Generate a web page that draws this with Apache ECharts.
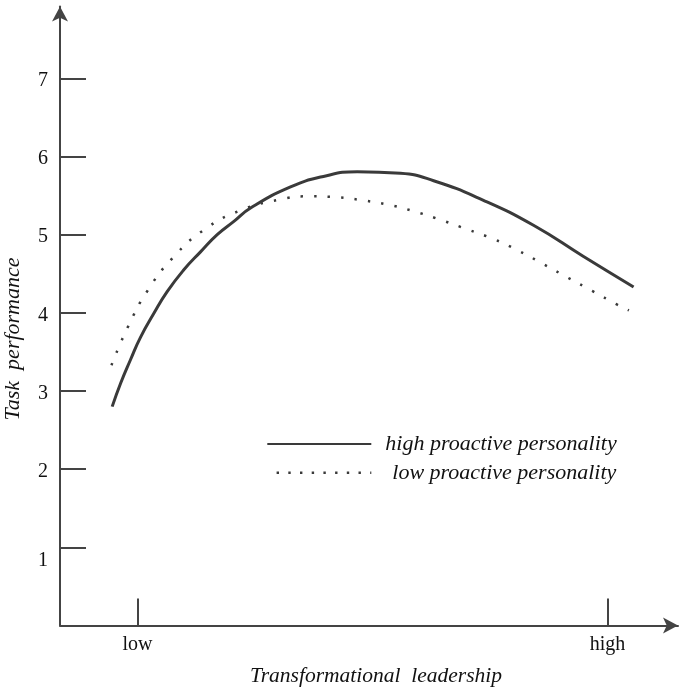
<!DOCTYPE html>
<html>
<head>
<meta charset="utf-8">
<script src="https://cdn.jsdelivr.net/npm/echarts@6/dist/echarts.min.js"></script>
<style>html,body{margin:0;padding:0;background:#fff}#c{width:685px;height:688px}</style>
</head>
<body>
<div id="c"></div>
<script>
// Transformational leadership (standardised: low = -1, high = +1)
const xTickValues = [-1, 1];
const xTickLabels = ['low', 'high'];
const yTickValues = [1, 2, 3, 4, 5, 6, 7];

const highX = [-1.108, -1.072, -1.030, -0.987, -0.931, -0.874, -0.803, -0.732, -0.661, -0.590, -0.519, -0.349, -0.209, -0.065, 0.119, 0.260, 0.472, 0.685, 0.898, 1.111];
const highY = [2.80, 3.10, 3.40, 3.69, 3.99, 4.27, 4.55, 4.78, 5.00, 5.17, 5.34, 5.61, 5.745, 5.805, 5.785, 5.69, 5.44, 5.12, 4.72, 4.33];

const lowX = [-1.111, -1.041, -0.956, -0.848, -0.718, -0.562, -0.394, -0.278, -0.160, -0.044, 0.072, 0.186, 0.299, 0.410, 0.519, 0.624, 0.729, 0.831, 0.935, 1.038, 1.091];
const lowY = [3.33, 3.82, 4.29, 4.71, 5.06, 5.31, 5.45, 5.49, 5.48, 5.44, 5.38, 5.29, 5.18, 5.06, 4.94, 4.79, 4.62, 4.45, 4.28, 4.11, 4.03];

const seriesNames = ['high proactive personality', 'low proactive personality'];
const xName = 'Transformational  leadership';
const yName = 'Task  performance';

const zip = (a, b) => a.map((v, i) => [v, b[i]]);
const FONT = '"Liberation Serif", "DejaVu Serif", serif';
const AX = '#444';
const LN = '#3a3a3a';

const chart = echarts.init(document.getElementById('c'));
chart.setOption({
  animation: false,
  backgroundColor: '#fff',
  grid: { left: 60, right: 7, top: 6.4, bottom: 62.5, containLabel: false, outerBoundsMode: 'none' },
  legend: {
    orient: 'vertical',
    left: 266,
    top: 433,
    padding: 0,
    itemWidth: 104,
    itemHeight: 14,
    itemGap: 6.8,
    itemStyle: { opacity: 0 },
    data: [
      { name: seriesNames[0], textStyle: { padding: [0, 0, 0, 9] } },
      { name: seriesNames[1], textStyle: { padding: [0, 0, 0, 16] },
        lineStyle: { type: [2.4, 9.3], dashOffset: 2.4, width: 2.6 } }
    ],
    textStyle: { fontFamily: FONT, fontStyle: 'italic', fontSize: 22, color: '#111' }
  },
  xAxis: {
    type: 'value',
    min: -1.33,
    max: 1.3,
    name: xName,
    nameLocation: 'middle',
    nameGap: 40,
    nameTextStyle: { fontFamily: FONT, fontStyle: 'italic', fontSize: 21.5, color: '#111', padding: [0, 0, 0, 14] },
    axisLine: { show: true, onZero: false, lineStyle: { color: AX, width: 2 }, symbol: ['none', 'arrow'], symbolSize: [12, 15] },
    axisTick: { show: true, inside: true, length: 27, customValues: xTickValues, lineStyle: { color: AX, width: 2 } },
    axisLabel: { customValues: xTickValues, margin: 9, fontFamily: FONT, fontSize: 20, color: '#111',
      formatter: v => xTickLabels[xTickValues.indexOf(v)] },
    splitLine: { show: false }
  },
  yAxis: {
    type: 'value',
    min: 0,
    max: 7.92,
    name: yName,
    nameLocation: 'middle',
    nameGap: 36,
    nameRotate: 90,
    nameTextStyle: { fontFamily: FONT, fontStyle: 'italic', fontSize: 22, color: '#111', padding: [0, 46, 0, 0] },
    axisLine: { show: true, onZero: false, lineStyle: { color: AX, width: 2 }, symbol: ['none', 'arrow'], symbolSize: [12, 15] },
    axisTick: { show: true, inside: true, length: 26, customValues: yTickValues, lineStyle: { color: AX, width: 2 } },
    axisLabel: { customValues: yTickValues, margin: 12, fontFamily: FONT, fontSize: 20, color: '#111', padding: [5, 0, 0, 0],
      formatter: v => v === 1 ? '{d|1}' : String(v),
      rich: { d: { fontFamily: FONT, fontSize: 20, color: '#111', padding: [22, 0, 0, 0] } } },
    splitLine: { show: false }
  },
  series: [
    {
      name: seriesNames[0], type: 'line', smooth: 0.5, showSymbol: false, symbol: 'none',
      data: zip(highX, highY),
      itemStyle: { color: LN },
      lineStyle: { color: LN, width: 3 }
    },
    {
      name: seriesNames[1], type: 'line', smooth: 0.5, showSymbol: false, symbol: 'none',
      data: zip(lowX, lowY),
      itemStyle: { color: LN },
      lineStyle: { color: LN, width: 2.5, type: [2.4, 11.1] }
    }
  ]
});
</script>
</body>
</html>
